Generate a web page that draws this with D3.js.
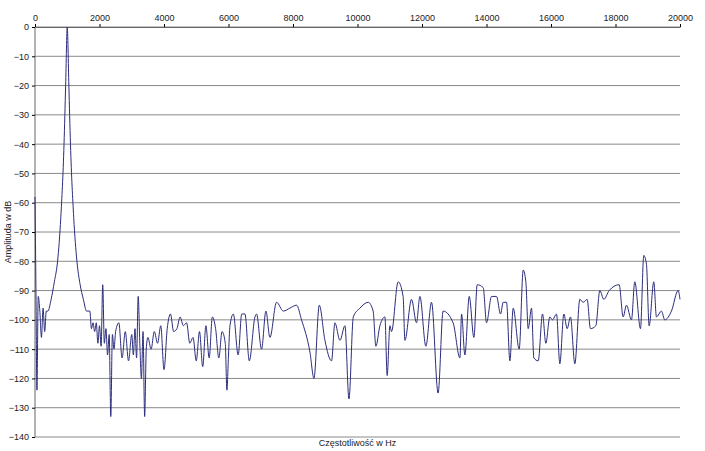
<!DOCTYPE html>
<html lang="pl">
<head>
<meta charset="utf-8">
<title>Widmo</title>
<script src="https://d3js.org/d3.v7.min.js"></script>
<style>
  body { margin: 0; background: #fff; }
  text { font-family: "Liberation Sans", Arial, sans-serif; fill: #222; }
</style>
</head>
<body>
<div id="canvas"></div>
<script>
const freq = [0,30,60,100,150,200,250,300,350,400,500,600,700,800,900,950,1000,1050,1100,1200,1300,1400,1500,1600,1700,1750,1800,1850,1900,1950,2000,2050,2100,2150,2200,2250,2300,2350,2400,2450,2500,2600,2700,2800,2900,3000,3050,3100,3150,3200,3250,3300,3350,3400,3450,3500,3600,3700,3800,3900,4000,4100,4200,4300,4400,4500,4600,4700,4800,4900,5000,5100,5200,5300,5400,5500,5600,5700,5800,5900,5950,6000,6045,6150,6300,6410,6510,6645,6820,6870,7025,7160,7285,7490,7700,7905,8110,8265,8525,8650,8815,8990,9195,9300,9455,9610,9735,9870,10075,10330,10485,10570,10695,10850,10920,11005,11055,11260,11415,11470,11675,11830,11935,12120,12295,12500,12655,12965,13175,13227,13330,13465,13609,13712,13898,14001,14156,14311,14435,14518,14621,14725,14828,15014,15138,15220,15293,15396,15468,15603,15737,15840,15964,16047,16171,16274,16398,16501,16604,16739,16894,16997,17121,17224,17390,17514,17638,17803,18113,18237,18340,18495,18598,18774,18877,18960,19043,19187,19270,19425,19528,19735,19941,20000];
const amp = [-58,-90,-124,-92,-97,-106,-96,-104,-97,-97,-93,-87,-80,-65,-40,-20,0,-20,-40,-65,-80,-88,-93,-97,-97,-103,-101,-104,-101,-108,-102,-109,-88,-108,-103,-112,-105,-133,-105,-110,-104,-101,-113,-104,-114,-105,-112,-103,-113,-92,-108,-120,-104,-133,-110,-106,-110,-104,-108,-102,-117,-103,-98,-104,-103,-99,-102,-101,-108,-106,-114,-104,-116,-102,-113,-99,-103,-113,-104,-108,-124,-112,-102,-98,-112,-98,-98,-114,-99,-98,-110,-97,-106,-94,-97,-96,-95,-100,-111,-120,-95,-107,-114,-101,-107,-102,-127,-99,-96,-94,-97,-109,-102,-99,-119,-102,-104,-87,-92,-107,-93,-101,-92,-109,-94,-125,-97,-101,-113,-98,-112,-92,-106,-88,-89,-101,-92,-92,-98,-94,-94,-114,-96,-110,-83,-87,-103,-96,-113,-114,-98,-108,-99,-100,-98,-115,-98,-103,-99,-115,-93,-94,-93,-103,-102,-90,-93,-90,-88,-99,-95,-100,-87,-103,-78,-81,-102,-87,-99,-97,-100,-97,-90,-93,-93];
const xTicks = d3.range(0, 20001, 2000);
const yTicks = d3.range(0, -141, -10);

const width = 705, height = 451;
const m = { left: 35, right: 25, top: 27, bottom: 14 };

const svg = d3.select("#canvas").append("svg")
  .attr("width", width).attr("height", height);

const x = d3.scaleLinear().domain([0, 20000]).range([m.left, width - m.right]);
const y = d3.scaleLinear().domain([0, -140]).range([m.top, height - m.bottom]);

// grid
svg.append("g").selectAll("line").data(yTicks).join("line")
  .attr("x1", m.left).attr("x2", width - m.right)
  .attr("y1", d => y(d)).attr("y2", d => y(d))
  .attr("stroke", "#8a8a8a").attr("stroke-width", 1);

svg.append("line")
  .attr("x1", m.left).attr("x2", m.left)
  .attr("y1", m.top).attr("y2", y(-140))
  .attr("stroke", "#666");

const xAxis = svg.append("g").attr("transform", `translate(0,${m.top})`)
  .call(d3.axisTop(x).tickValues(xTicks).tickFormat(d3.format("d")).tickSize(3).tickSizeOuter(0));
xAxis.select(".domain").attr("stroke", "#666");
xAxis.selectAll("text").attr("font-size", 9);

const yAxis = svg.append("g").attr("transform", `translate(${m.left},0)`)
  .call(d3.axisLeft(y).tickValues(yTicks).tickSize(3).tickSizeOuter(0));
yAxis.select(".domain").remove();
yAxis.selectAll("text").attr("font-size", 9);

const data = freq.map((f, i) => [f, amp[i]]);
svg.append("path").datum(data)
  .attr("fill", "none").attr("stroke", "#2b2d7c").attr("stroke-width", 1)
  .attr("d", d3.line().curve(d3.curveMonotoneX).x(d => x(d[0])).y(d => y(d[1])));

svg.append("text").attr("x", (m.left + width - m.right) / 2).attr("y", 446)
  .attr("text-anchor", "middle").attr("font-size", 9).text("Częstotliwość w Hz");
svg.append("text").attr("transform", `translate(11,${y(-70)}) rotate(-90)`)
  .attr("text-anchor", "middle").attr("font-size", 9).text("Amplituda w dB");
</script>
</body>
</html>
